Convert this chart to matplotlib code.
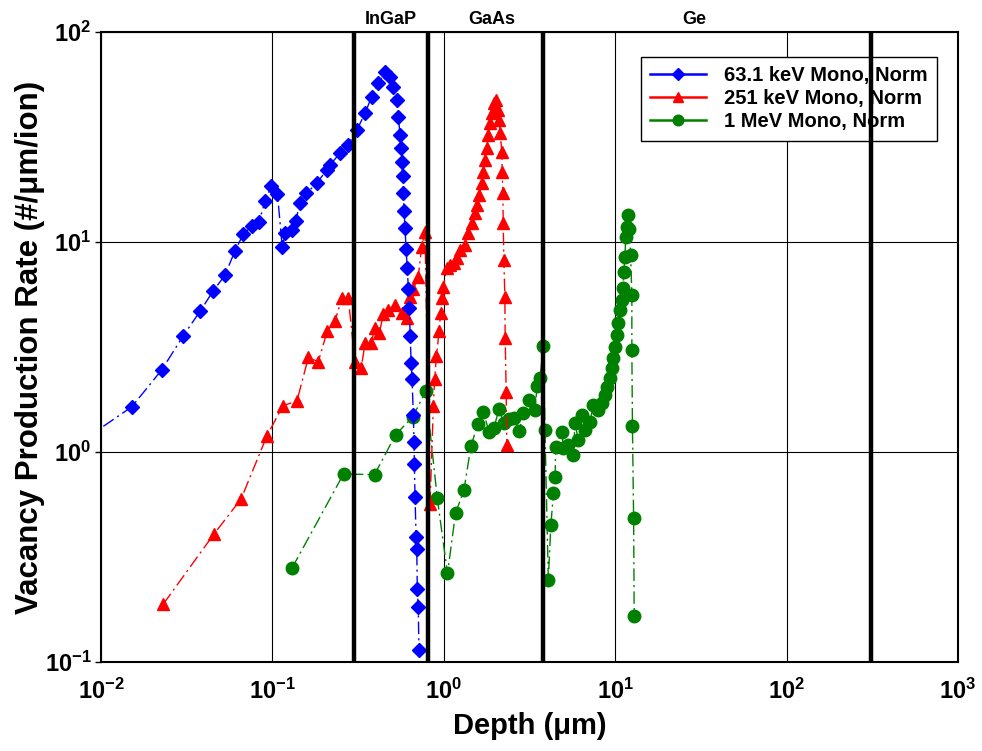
import math
import matplotlib
matplotlib.use('Agg')
import matplotlib.pyplot as plt
from matplotlib.ticker import LogLocator, FuncFormatter

plt.rcParams['font.family'] = ['Liberation Sans', 'DejaVu Sans']
plt.rcParams['font.weight'] = 'bold'
plt.rcParams['mathtext.fontset'] = 'custom'
plt.rcParams['mathtext.rm'] = 'Liberation Sans:bold'
plt.rcParams['mathtext.bf'] = 'Liberation Sans:bold'

# 63.1 keV Mono, Norm
depth_63 = [0.008, 0.0151, 0.0226, 0.0302, 0.0379, 0.0452, 0.0528, 0.0603, 0.0676, 0.0757,
            0.0836, 0.0906, 0.0987, 0.107, 0.114, 0.119, 0.130, 0.137, 0.144, 0.158,
            0.181, 0.207, 0.217, 0.248, 0.277, 0.311, 0.347, 0.379, 0.415, 0.454,
            0.485, 0.507, 0.531, 0.543, 0.555, 0.562, 0.567, 0.575, 0.580, 0.586,
            0.594, 0.602, 0.612, 0.621, 0.630, 0.636, 0.645, 0.652, 0.664, 0.670,
            0.673, 0.679, 0.689, 0.695, 0.700, 0.709, 0.716]
rate_63 = [1.15, 1.64, 2.46, 3.58, 4.69, 5.86, 6.94, 9.03, 10.9, 11.9,
           12.5, 15.7, 18.5, 16.9, 9.5, 11.0, 11.4, 12.6, 15.3, 17.1,
           19.0, 22.0, 23.3, 26.5, 29.0, 34.2, 41.0, 49.2, 57.0, 64.7,
           61.3, 54.9, 47.5, 39.5, 32.3, 27.9, 24.1, 20.6, 17.2, 14.1,
           11.6, 9.26, 7.50, 5.95, 4.83, 3.57, 2.66, 2.23, 1.50, 1.11,
           0.874, 0.608, 0.393, 0.345, 0.223, 0.182, 0.114]

# 251 keV Mono, Norm
depth_251 = [0.0231, 0.0456, 0.0656, 0.0927, 0.115, 0.139, 0.162, 0.185, 0.209, 0.232,
             0.254, 0.277, 0.303, 0.329, 0.347, 0.375, 0.397, 0.421, 0.444, 0.474,
             0.519, 0.567, 0.608, 0.636, 0.664, 0.709, 0.743, 0.776, 0.830, 0.869,
             0.883, 0.906, 0.938, 0.957, 0.973, 0.993, 1.04, 1.09, 1.14, 1.19,
             1.24, 1.33, 1.39, 1.46, 1.52, 1.57, 1.61, 1.66, 1.70, 1.74,
             1.78, 1.82, 1.86, 1.90, 1.96, 2.02, 2.08, 2.11, 2.13, 2.18,
             2.19, 2.21, 2.22, 2.24, 2.27, 2.28, 2.31, 2.33]
rate_251 = [0.189, 0.407, 0.597, 1.19, 1.66, 1.75, 2.82, 2.69, 3.77, 4.22,
            5.40, 5.40, 2.69, 2.50, 3.29, 3.30, 3.88, 3.70, 4.54, 4.75,
            5.01, 4.57, 4.33, 5.49, 5.95, 6.84, 9.50, 11.2, 0.565, 1.66,
            2.23, 2.85, 3.77, 4.57, 5.40, 6.09, 7.50, 7.77, 7.92, 8.36,
            9.16, 9.68, 11.0, 12.3, 13.7, 15.0, 16.7, 19.0, 21.6, 24.6,
            27.9, 32.3, 36.8, 41.0, 45.8, 47.5, 42.5, 38.1, 32.9, 26.9,
            21.6, 17.1, 12.3, 8.21, 5.49, 3.48, 1.94, 1.08]

# 1 MeV Mono, Norm
depth_1m = [0.130, 0.260, 0.394, 0.524, 0.659, 0.784, 0.916, 1.05, 1.17, 1.31,
            1.44, 1.58, 1.70, 1.84, 1.96, 2.10, 2.24, 2.40, 2.57, 2.76,
            2.91, 3.15, 3.40, 3.50, 3.64, 3.81, 3.89, 4.07, 4.21, 4.36,
            4.46, 4.49, 4.88, 4.98, 5.33, 5.70, 5.82, 6.09, 6.38, 6.67,
            7.13, 7.45, 7.96, 8.34, 8.71, 8.99, 9.33, 9.55, 9.75, 9.98,
            10.2, 10.4, 10.7, 10.9, 11.1, 11.2, 11.4, 11.5, 11.7, 11.8,
            12.1, 12.3, 12.5, 12.5, 12.6, 12.8, 12.9]
rate_1m = [0.280, 0.786, 0.780, 1.21, 1.47, 1.95, 0.602, 0.264, 0.511, 0.659,
           1.07, 1.36, 1.55, 1.24, 1.30, 1.61, 1.37, 1.44, 1.45, 1.26,
           1.53, 1.77, 1.58, 2.06, 2.25, 3.21, 1.27, 0.246, 0.449, 0.635,
           0.762, 1.06, 1.25, 1.04, 1.08, 0.968, 1.37, 1.14, 1.50, 1.27,
           1.39, 1.67, 1.58, 1.71, 1.87, 2.05, 2.24, 2.50, 2.79, 3.17,
           3.60, 4.10, 4.75, 5.29, 6.02, 7.22, 8.51, 10.6, 11.8, 13.4,
           11.5, 8.67, 5.59, 3.06, 1.33, 0.483, 0.166]

# layer boundaries (um) and layer names
boundaries = [0.3, 0.81, 3.8, 310]
layer_names = ['InGaP', 'GaAs', 'Ge']
layer_centers = [0.492, 1.91, 29]

fig = plt.figure(figsize=(9.82, 7.51), dpi=100)
ax = fig.add_axes([0.1029, 0.1185, 0.8727, 0.8389])

ls = (0, (9, 3, 1.5, 3))
ax.plot(depth_63, rate_63, color='blue', marker='D', markersize=7.2, lw=1.0,
        linestyle=ls, label='63.1 keV Mono, Norm', zorder=5)
ax.plot(depth_251, rate_251, color='red', marker='^', markersize=9, lw=1.0,
        linestyle=ls, label='251 keV Mono, Norm', zorder=4)
ax.plot(depth_1m, rate_1m, color='green', marker='o', markersize=9, lw=1.0,
        linestyle=ls, label='1 MeV Mono, Norm', zorder=3)

for b in boundaries:
    ax.axvline(b, color='black', lw=3.2, zorder=6)

ax.set_xscale('log')
ax.set_yscale('log')
ax.set_xlim(1e-2, 1e3)
ax.set_ylim(1e-1, 1e2)
ax.xaxis.set_major_locator(LogLocator(base=10, numticks=10))
ax.yaxis.set_major_locator(LogLocator(base=10, numticks=10))
ax.xaxis.set_minor_locator(plt.NullLocator())
ax.yaxis.set_minor_locator(plt.NullLocator())
fmt = FuncFormatter(lambda v, p: r'$\mathrm{10^{%d}}$' % round(math.log10(v)))
ax.xaxis.set_major_formatter(fmt)
ax.yaxis.set_major_formatter(fmt)
ax.grid(True, which='major', color='black', lw=0.8)
ax.tick_params(axis='x', length=0, pad=12, labelsize=17)
ax.tick_params(axis='y', length=4, width=1, pad=3, labelsize=17)
for s in ax.spines.values():
    s.set_linewidth(1.5)

ax.set_xlabel('Depth (μm)', fontsize=21, fontweight='bold', labelpad=6)
ax.set_ylabel('Vacancy Production Rate (#/μm/ion)', fontsize=22.5, fontweight='bold', labelpad=0)

for name, xc in zip(layer_names, layer_centers):
    ax.text(xc, 1.006, name, transform=ax.get_xaxis_transform(), ha='center', va='bottom',
            fontsize=13, fontweight='bold')

leg = ax.legend(loc='upper right', bbox_to_anchor=(0.9755, 0.961), borderaxespad=0,
                fontsize=14.5, frameon=True, fancybox=False, edgecolor='black', framealpha=1,
                handlelength=2.8, borderpad=0.45, labelspacing=0.22, handletextpad=0.9,
                markerscale=0.85)
leg.get_frame().set_linewidth(1.0)
for h in leg.get_lines():
    h.set_linestyle('-')
    h.set_linewidth(1.8)

fig.savefig('out.png', dpi=100)
